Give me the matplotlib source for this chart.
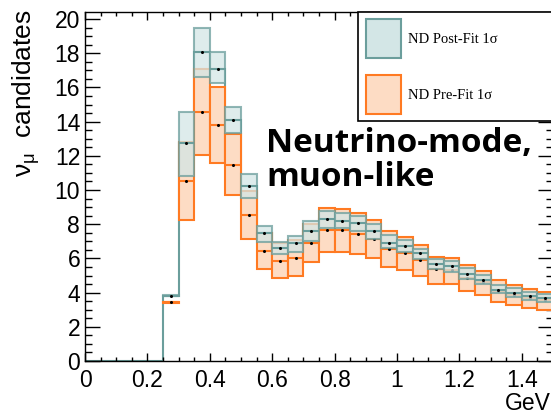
import matplotlib
matplotlib.use("Agg")
import matplotlib.pyplot as plt
from matplotlib.patches import Patch, Rectangle

# bin low edges (GeV), bin width 0.05
bin_low = [0.00, 0.05, 0.10, 0.15, 0.20, 0.25, 0.30, 0.35, 0.40, 0.45,
           0.50, 0.55, 0.60, 0.65, 0.70, 0.75, 0.80, 0.85, 0.90, 0.95,
           1.00, 1.05, 1.10, 1.15, 1.20, 1.25, 1.30, 1.35, 1.40, 1.45]
bin_width = 0.05

# ND post-fit: nominal and 1 sigma band
post_c = [0, 0, 0, 0, 0, 3.82, 12.75, 18.05, 17.10, 14.07,
          10.23, 7.47, 6.59, 6.88, 7.63, 8.29, 8.20, 8.05, 7.60, 6.90,
          6.70, 6.30, 5.68, 5.55, 5.10, 4.75, 4.17, 3.96, 3.78, 3.68]
post_lo = [0, 0, 0, 0, 0, 3.78, 10.80, 16.60, 16.24, 13.31,
           9.55, 6.98, 6.26, 6.39, 7.00, 7.78, 7.78, 7.63, 7.15, 6.58,
           6.40, 5.95, 5.40, 5.20, 4.82, 4.52, 3.96, 3.72, 3.55, 3.45]
post_hi = [0, 0, 0, 0, 0, 3.86, 14.56, 19.49, 18.05, 14.87,
           10.95, 7.90, 6.96, 7.33, 8.20, 8.80, 8.66, 8.50, 8.00, 7.35,
           7.05, 6.55, 5.98, 5.87, 5.45, 5.05, 4.44, 4.27, 4.05, 3.93]

# ND pre-fit: nominal and 1 sigma band
pre_c = [0, 0, 0, 0, 0, 3.45, 10.52, 14.56, 13.80, 11.48,
         8.55, 6.43, 5.86, 6.00, 6.90, 7.66, 7.64, 7.45, 7.14, 6.55,
         6.30, 5.90, 5.38, 5.30, 4.88, 4.60, 4.08, 3.84, 3.66, 3.55]
pre_lo = [0, 0, 0, 0, 0, 3.42, 8.22, 12.07, 11.60, 9.70,
          7.11, 5.38, 4.83, 4.95, 5.78, 6.39, 6.39, 6.25, 6.02, 5.51,
          5.32, 5.00, 4.48, 4.48, 4.12, 3.86, 3.47, 3.27, 3.08, 2.98]
pre_hi = [0, 0, 0, 0, 0, 3.48, 12.80, 17.08, 16.00, 13.26,
          9.96, 7.50, 6.90, 7.05, 8.00, 8.93, 8.89, 8.63, 8.25, 7.60,
          7.27, 6.78, 6.10, 6.00, 5.61, 5.28, 4.72, 4.44, 4.21, 4.05]

teal_edge = "#6b9e9c"
teal_fill = "#d3e6e6"
orange_edge = "#ff7a22"
orange_fill = "#fddcc4"

plt.rcParams["font.family"] = ["Liberation Sans", "DejaVu Sans"]
plt.rcParams["mathtext.fontset"] = "custom"
plt.rcParams["mathtext.rm"] = "Liberation Sans"
plt.rcParams["mathtext.it"] = "Liberation Sans"

W, H = 551, 413
fig = plt.figure(figsize=(W / 100, H / 100), dpi=100)
ax = fig.add_axes([85 / W, 1 - 361 / H, (553 - 85) / W, (361 - 11.7) / H])

# only the bins with entries get boxes
idx = [i for i in range(len(bin_low)) if post_c[i] > 0]
left = [bin_low[i] for i in idx]
right = [bin_low[i] + bin_width for i in idx]

def band(lo, c, hi, edge, fill, alpha, z):
    ax.bar([bin_low[i] for i in idx], [hi[i] - lo[i] for i in idx],
           bottom=[lo[i] for i in idx], width=bin_width, align="edge",
           facecolor=fill, edgecolor=edge, linewidth=1.5, alpha=alpha, zorder=z)
    ax.hlines([c[i] for i in idx], left, right, color=edge, linewidth=1.5, zorder=z + 0.1)
    ax.plot([bin_low[i] + bin_width / 2 for i in idx], [c[i] for i in idx],
            "o", color="black", ms=1.2, zorder=z + 0.2)

band(pre_lo, pre_c, pre_hi, orange_edge, orange_fill, 1.0, 2)
band(post_lo, post_c, post_hi, teal_edge, teal_fill, 0.75, 3)

# post-fit nominal as a step histogram
ax.stairs(post_c, bin_low + [bin_low[-1] + bin_width], color=teal_edge,
          linewidth=1.5, zorder=1.5)

ax.set_xlim(0, 1.5)
ax.set_ylim(0, 20.43)
ax.set_xticks([0, 0.2, 0.4, 0.6, 0.8, 1.0, 1.2, 1.4])
ax.set_xticklabels(["0", "0.2", "0.4", "0.6", "0.8", "1", "1.2", "1.4"])
ax.set_xticks([i * 0.05 for i in range(31)], minor=True)
ax.set_yticks(range(0, 21, 2))
ax.set_yticks([i * 0.5 for i in range(41)], minor=True)
ax.tick_params(which="both", direction="in", top=True, right=True,
               labelsize=16.5, width=1)
ax.tick_params(axis="y", which="major", length=10.5, pad=3.5)
ax.tick_params(axis="y", which="minor", length=5)
ax.tick_params(axis="x", which="major", length=5.5, pad=6)
ax.tick_params(axis="x", which="minor", length=3)
for s in ax.spines.values():
    s.set_linewidth(1)

fig.text(26 / W, 1 - 9 / H, r"$\nu_{\mu}$  candidates", rotation=90,
         ha="center", va="top", fontsize=19)
fig.text(505 / W, 1 - 403 / H, "GeV", ha="left", va="center", fontsize=16.5)

ax.text(266 / W, 1 - 127 / H, "Neutrino-mode,\nmuon-like", transform=fig.transFigure,
        ha="left", va="top", fontsize=24, fontweight="bold",
        family=["Open Sans", "DejaVu Sans"], linespacing=1.05, zorder=10)

# legend frame (runs off the right edge like the original)
ax.add_patch(Rectangle((358 / W, 1 - 120.7 / H), 210 / W, 109 / H,
                       transform=fig.transFigure, facecolor="white",
                       edgecolor="black", linewidth=1.2, zorder=5, clip_on=False))
handles = [Patch(facecolor=teal_fill, edgecolor=teal_edge, linewidth=1.5,
                 label="ND Post-Fit 1σ"),
           Patch(facecolor=orange_fill, edgecolor=orange_edge, linewidth=1.5,
                 label="ND Pre-Fit 1σ")]
leg = ax.legend(handles=handles, loc="upper left",
                bbox_to_anchor=(366 / W, 1 - 19.3 / H), bbox_transform=fig.transFigure,
                frameon=False, prop={"family": "Liberation Serif", "size": 10.5},
                handlelength=2.4, handleheight=3.73, labelspacing=1.16,
                handletextpad=0.5, borderpad=0, borderaxespad=0)
leg.set_zorder(6)

fig.savefig("out.png", dpi=100)
